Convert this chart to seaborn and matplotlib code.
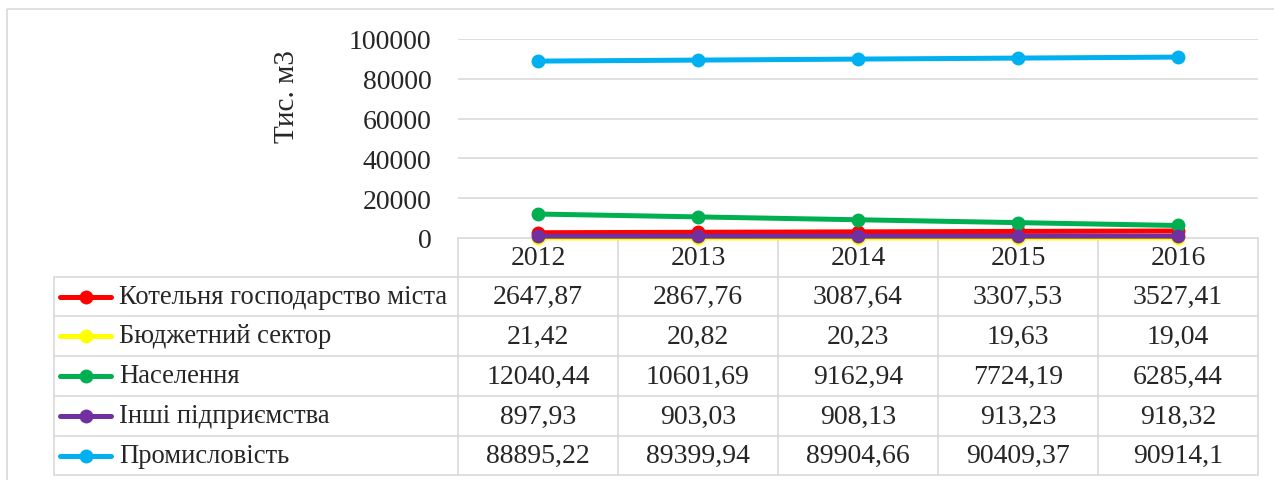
import matplotlib
matplotlib.use("Agg")
import matplotlib.pyplot as plt
import seaborn as sns
import pandas as pd
from matplotlib.patches import Rectangle

# data
years = ["2012", "2013", "2014", "2015", "2016"]
series_names = [
    "Котельня господарство міста",
    "Бюджетний сектор",
    "Населення",
    "Інші підприємства",
    "Промисловість",
]
kotelnia = [2647.87, 2867.76, 3087.64, 3307.53, 3527.41]
biudzhet = [21.42, 20.82, 20.23, 19.63, 19.04]
naselennia = [12040.44, 10601.69, 9162.94, 7724.19, 6285.44]
inshi = [897.93, 903.03, 908.13, 913.23, 918.32]
promyslovist = [88895.22, 89399.94, 89904.66, 90409.37, 90914.1]
colors = ["#FF0000", "#FFFF00", "#00B050", "#7030A0", "#00B0F0"]
y_ticks = [0, 20000, 40000, 60000, 80000, 100000]

all_values = [kotelnia, biudzhet, naselennia, inshi, promyslovist]

rows = []
for name, vals in zip(series_names, all_values):
    for i, v in enumerate(vals):
        rows.append({"series": name, "pos": i, "value": v})
df = pd.DataFrame(rows)

sns.set_theme(style="white")
plt.rcParams["font.family"] = ["Liberation Serif", "DejaVu Serif"]
FS = 20
GRID = "#D9D9D9"

W, H = 1274, 481
fig = plt.figure(figsize=(W / 100, H / 100), dpi=100)

# pixel layout
x_left, x_right = 458, 1258
y_top, y_zero = 40, 239
row_lines = [278, 317, 357, 397, 437, 476]
tbl_left = 54

# overlay for border + table, pixel coordinates
ov = fig.add_axes([0, 0, 1, 1], zorder=0)
ov.set_xlim(0, W)
ov.set_ylim(H, 0)
ov.axis("off")
ov.add_patch(Rectangle((7, 10), W + 20, H + 20, fill=False, ec=GRID, lw=1.2))

ax = fig.add_axes([x_left / W, (H - y_zero) / H, (x_right - x_left) / W, (y_zero - y_top) / H], zorder=2)
ax.patch.set_alpha(0)
sns.lineplot(data=df, x="pos", y="value", hue="series", hue_order=series_names,
             palette=colors, marker="o", markersize=10, markeredgewidth=0,
             linewidth=3.6, legend=False, ax=ax)
for ln in ax.lines:
    ln.set_clip_on(False)
    ln.set_solid_capstyle("butt")
ax.set_xlim(-0.5, len(years) - 0.5)
ax.set_ylim(0, 100000)
ax.set_yticks(y_ticks)
ax.set_yticklabels([str(t) for t in y_ticks], fontsize=FS)
ax.set_xticks([])
ax.set_xlabel("")
ax.set_ylabel("Тис. м3", fontsize=FS + 1)
ax.yaxis.set_label_coords((300 - x_left) / (x_right - x_left), (y_zero - 97) / (y_zero - y_top))
ax.tick_params(axis="y", length=0, pad=19)
for t in y_ticks[1:]:
    ax.axhline(t, color=GRID, lw=1.2, zorder=0)
for s in ax.spines.values():
    s.set_visible(False)

# table grid
col_w = (x_right - x_left) / len(years)
col_edges = [x_left + col_w * i for i in range(len(years) + 1)]
ov.plot([x_left, x_right], [y_zero, y_zero], color=GRID, lw=1.2)
for y in row_lines:
    ov.plot([tbl_left, x_right], [y, y], color=GRID, lw=1.2)
for x in col_edges:
    ov.plot([x, x], [y_zero, row_lines[-1]], color=GRID, lw=1.2)
ov.plot([tbl_left, tbl_left], [row_lines[0], row_lines[-1]], color=GRID, lw=1.2)

# header
for i, yr in enumerate(years):
    ov.text(x_left + col_w * (i + 0.5), (y_zero + row_lines[0]) / 2, yr,
            ha="center", va="center", fontsize=FS)

# rows with legend keys
for r, (name, vals, c) in enumerate(zip(series_names, all_values, colors)):
    yc = (row_lines[r] + row_lines[r + 1]) / 2
    ov.plot([60, 111], [yc, yc], color=c, lw=3.6, solid_capstyle="round")
    ov.plot([86], [yc], marker="o", ms=10, mew=0, color=c)
    ov.text(119, yc, name, ha="left", va="center", fontsize=19.2)
    for i, v in enumerate(vals):
        s = f"{v:.2f}".rstrip("0").rstrip(".").replace(".", ",")
        ov.text(x_left + col_w * (i + 0.5), yc, s, ha="center", va="center", fontsize=FS)

fig.savefig("out.png", dpi=100)
